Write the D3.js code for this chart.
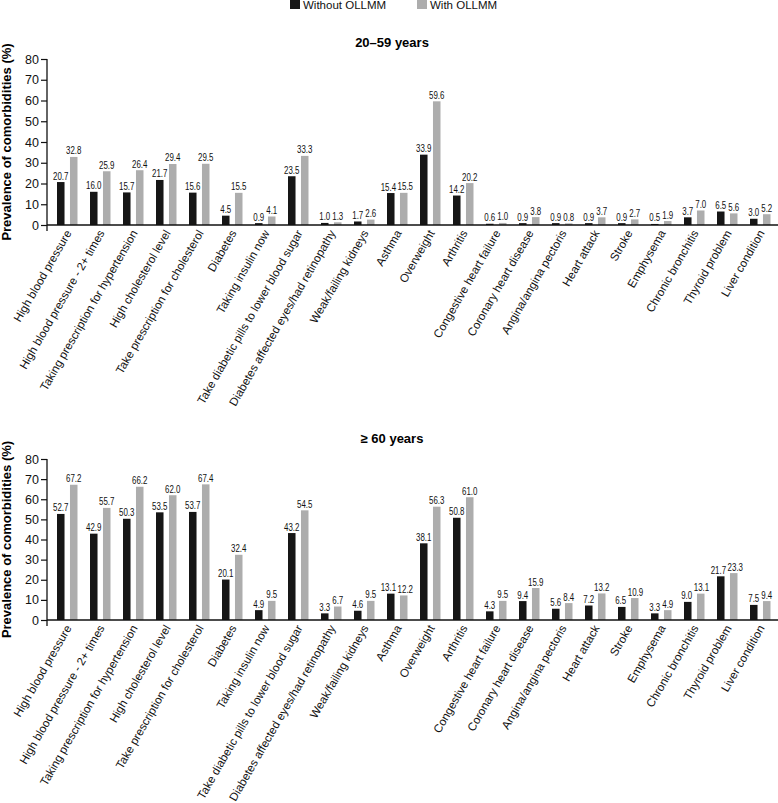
<!DOCTYPE html>
<html>
<head>
<meta charset="utf-8">
<script src="https://cdn.jsdelivr.net/npm/d3@7"></script>
<style>
  body { margin: 0; background: #fff; }
  svg { display: block; font-family: "Liberation Sans", Arial, Helvetica, sans-serif; }
</style>
</head>
<body>
<svg id="chart"></svg>
<script>
const categories = ["High blood pressure", "High blood pressure - 2+ times", "Taking prescription for hypertension",
  "High cholesterol level", "Take prescription for cholesterol", "Diabetes", "Taking insulin now",
  "Take diabetic pills to lower blood sugar", "Diabetes affected eyes/had retinopathy", "Weak/failing kidneys",
  "Asthma", "Overweight", "Arthritis", "Congestive heart failure", "Coronary heart disease",
  "Angina/angina pectoris", "Heart attack", "Stroke", "Emphysema", "Chronic bronchitis",
  "Thyroid problem", "Liver condition"];
const series = ["Without OLLMM", "With OLLMM"];
const colors = ["#161616", "#adadad"];

const youngWithout = [20.7, 16.0, 15.7, 21.7, 15.6, 4.5, 0.9, 23.5, 1.0, 1.7, 15.4, 33.9, 14.2, 0.6, 0.9, 0.9, 0.9, 0.9, 0.5, 3.7, 6.5, 3.0];
const youngWith = [32.8, 25.9, 26.4, 29.4, 29.5, 15.5, 4.1, 33.3, 1.3, 2.6, 15.5, 59.6, 20.2, 1.0, 3.8, 0.8, 3.7, 2.7, 1.9, 7.0, 5.6, 5.2];
const oldWithout = [52.7, 42.9, 50.3, 53.5, 53.7, 20.1, 4.9, 43.2, 3.3, 4.6, 13.1, 38.1, 50.8, 4.3, 9.4, 5.6, 7.2, 6.5, 3.3, 9.0, 21.7, 7.5];
const oldWith = [67.2, 55.7, 66.2, 62.0, 67.4, 32.4, 9.5, 54.5, 6.7, 9.5, 12.2, 56.3, 61.0, 9.5, 15.9, 8.4, 13.2, 10.9, 4.9, 13.1, 23.3, 9.4];
const yTicks = [0, 10, 20, 30, 40, 50, 60, 70, 80];

const width = 778, height = 803;
const axisX = 47;
const labelScale = 0.72;

const svg = d3.select("#chart").attr("width", width).attr("height", height);

// legend
const legend = svg.append("g");
[[290, 0], [417, 1]].forEach(([lx, i]) => {
  legend.append("rect").attr("x", lx).attr("y", 0).attr("width", 10).attr("height", 9).attr("fill", colors[i]);
  legend.append("text").attr("x", lx + 13).attr("y", 9).attr("font-size", 11.5).attr("fill", "#111").text(series[i]);
});

const x = d3.scaleBand().domain(categories).range([50.5, 776.5]);
const x1 = d3.scaleBand().domain(series).range([-10, 10.5]).paddingInner(0.42);

function panel(title, titleY, top, zero, without, withV) {
  const g = svg.append("g");
  const y = d3.scaleLinear().domain([0, 80]).range([zero, top]);

  g.append("text")
    .attr("x", 392).attr("y", titleY)
    .attr("text-anchor", "middle")
    .attr("font-size", 13).attr("font-weight", "bold")
    .text(title);

  // y axis
  const yAxis = d3.axisLeft(y).tickValues(yTicks).tickSize(6).tickPadding(2).tickSizeOuter(0);
  const ya = g.append("g").attr("transform", `translate(${axisX},0)`).call(yAxis);
  ya.select(".domain").remove();
  ya.selectAll("text").attr("font-size", 12.5).attr("font-family", "Liberation Sans, Arial, sans-serif").attr("fill", "#111");
  ya.selectAll("line").attr("stroke", "#111").attr("stroke-width", 1.2);
  g.append("line").attr("x1", axisX).attr("x2", axisX).attr("y1", y(80)).attr("y2", zero + 6)
    .attr("stroke", "#111").attr("stroke-width", 1.3);

  g.append("text")
    .attr("transform", `translate(11,${(top + zero) / 2}) rotate(-90)`)
    .attr("text-anchor", "middle")
    .attr("font-size", 13).attr("font-weight", "bold")
    .text("Prevalence of comorbidities (%)");

  // bars
  const rows = categories.map((c, i) => ({ c, vals: [without[i], withV[i]] }));
  const grp = g.selectAll(".grp").data(rows).enter().append("g")
    .attr("transform", d => `translate(${x(d.c) + x.bandwidth() / 2},0)`);

  grp.selectAll("rect").data(d => d.vals.map((v, i) => ({ v, s: series[i], i })))
    .enter().append("rect")
    .attr("x", d => x1(d.s))
    .attr("width", x1.bandwidth())
    .attr("y", d => y(d.v))
    .attr("height", d => zero - y(d.v))
    .attr("fill", d => colors[d.i]);

  // value labels, pushed apart when the pair would collide
  grp.each(function(d) {
    const gg = d3.select(this);
    const labs = d.vals.map((v, i) => {
      const t = gg.append("text")
        .attr("text-anchor", "middle")
        .attr("font-size", 11)
        .attr("fill", "#111")
        .text(v.toFixed(1));
      return { t, v, cx: x1(series[i]) + x1.bandwidth() / 2, y: y(v) - 2.5, w: t.node().getComputedTextLength() * labelScale };
    });
    const [a, b] = labs;
    if (Math.abs(a.y - b.y) < 9) {
      const need = (a.w + b.w) / 2 + 1.5 - (b.cx - a.cx);
      if (need > 0) { a.cx -= need * 0.6; b.cx += need * 0.4; }
    }
    labs.forEach(l => l.t.attr("transform", `translate(${l.cx},${l.y}) scale(${labelScale},1)`));
  });

  // x axis line
  g.append("line").attr("x1", axisX).attr("x2", width).attr("y1", zero).attr("y2", zero)
    .attr("stroke", "#111").attr("stroke-width", 1.3);

  // category labels
  g.selectAll(".cat").data(categories).enter().append("text")
    .attr("class", "cat")
    .attr("transform", d => `translate(${x(d) + x.bandwidth() / 2 + 5},${zero + 8}) rotate(-60)`)
    .attr("text-anchor", "end")
    .attr("font-size", 11.6)
    .attr("fill", "#111")
    .text(d => d);
}

panel("20\u201359 years", 47, 59, 225, youngWithout, youngWith);
panel("\u2265 60 years", 443, 459, 620, oldWithout, oldWith);
</script>
</body>
</html>
